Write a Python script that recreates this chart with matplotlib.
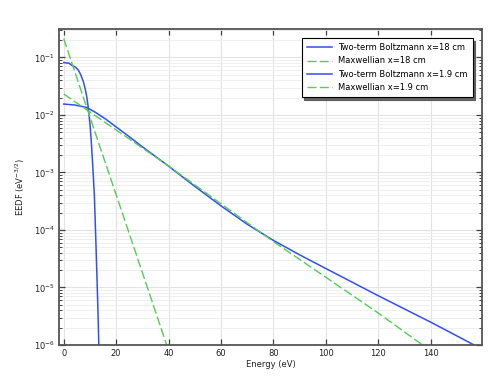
import numpy as np
import matplotlib
matplotlib.use("Agg")
import matplotlib.pyplot as plt
from matplotlib.ticker import LogLocator, MultipleLocator, NullFormatter

# Energy (eV) and EEDF (eV^-3/2) values
E_tb18 = [0, 2, 3.05, 4.5, 5.6, 6.5, 7.5, 8.2, 8.8, 9.4, 10.05, 10.5, 11.1, 11.7, 12.35, 13.0, 13.4]
f_tb18 = [0.0816, 0.0794, 0.0735, 0.0676, 0.0603, 0.0501, 0.0380, 0.0282, 0.0207,
          0.0131, 6.7e-3, 3.55e-3, 1.26e-3, 4.0e-4, 4.8e-5, 5.0e-6, 1.0e-6]

E_mx18 = [0, 13.6, 23.4, 39.3]
f_mx18 = [0.213, 3.0e-3, 1.43e-4, 1.0e-6]

E_tb19 = [0, 4.3, 8.8, 12, 16, 20, 25, 30, 40, 50, 60, 70, 80, 90, 100, 120, 140, 156.6]
f_tb19 = [0.0155, 0.0149, 0.0135, 0.0112, 8.5e-3, 6.2e-3, 4.2e-3, 2.8e-3, 1.29e-3,
          5.75e-4, 2.63e-4, 1.26e-4, 6.6e-5, 3.7e-5, 2.14e-5, 7.2e-6, 2.5e-6, 1.0e-6]

E_mx19 = [0, 40, 80, 120, 136.9]
f_mx19 = [0.0232, 1.3e-3, 6.3e-5, 3.6e-6, 1.0e-6]

labels = ["Two-term Boltzmann x=18 cm", "Maxwellian x=18 cm",
          "Two-term Boltzmann x=1.9 cm", "Maxwellian x=1.9 cm"]

blue = "#3050f5"
green = "#55cc55"

plt.rcParams['font.family'] = ['DejaVu Sans']
plt.rcParams['font.size'] = 6

fig = plt.figure(figsize=(4.98, 3.78), dpi=100)
ax = fig.add_axes([59/498, 33/378, (482-59)/498, (345-29)/378])

dash = (0, (6.5, 2.3))
ax.plot(E_tb18, f_tb18, color=blue, lw=1.1, label=labels[0])
ax.plot(E_mx18, f_mx18, color=green, lw=1.0, ls=dash, label=labels[1])
ax.plot(E_tb19, f_tb19, color=blue, lw=1.1, label=labels[2])
ax.plot(E_mx19, f_mx19, color=green, lw=1.0, ls=dash, label=labels[3])

ax.set_yscale('log')
ax.set_xlim(-1.8, 159.6)
ax.set_ylim(1e-6, 0.313)

ax.xaxis.set_major_locator(MultipleLocator(20))
ax.yaxis.set_major_locator(LogLocator(base=10, numticks=20))
ax.yaxis.set_minor_locator(LogLocator(base=10, subs=np.arange(2, 10), numticks=20))
ax.yaxis.set_minor_formatter(NullFormatter())

ax.grid(True, which='major', color='#e3e3e3', lw=0.8)
ax.grid(True, which='minor', axis='y', color='#ececec', lw=0.6)
ax.set_axisbelow(True)

for s in ax.spines.values():
    s.set_color('#555555')
    s.set_linewidth(1.3)

ax.tick_params(which='both', direction='in', top=True, right=True, colors='#444444',
               labelcolor='#222222', labelsize=6, pad=3)
ax.tick_params(which='major', length=4, width=0.9)
ax.tick_params(which='minor', length=2.2, width=0.7)

ax.set_xlabel("Energy (eV)", fontsize=6, labelpad=1, color='#222222')
ax.set_ylabel("EEDF (eV$^{-3/2}$)", fontsize=6, labelpad=5, color='#222222')

leg = ax.legend(loc='upper right', bbox_to_anchor=(472.7/498, (378-38.3)/378),
                bbox_transform=fig.transFigure, fontsize=6, frameon=True,
                fancybox=False, shadow={'color': '#555555', 'alpha': 0.9},
                handlelength=3.0, labelspacing=0.5,
                borderpad=0.6, handletextpad=0.8, borderaxespad=0)
leg.get_frame().set_edgecolor('black')
leg.get_frame().set_linewidth(0.8)

fig.savefig("out.png", dpi=100)
